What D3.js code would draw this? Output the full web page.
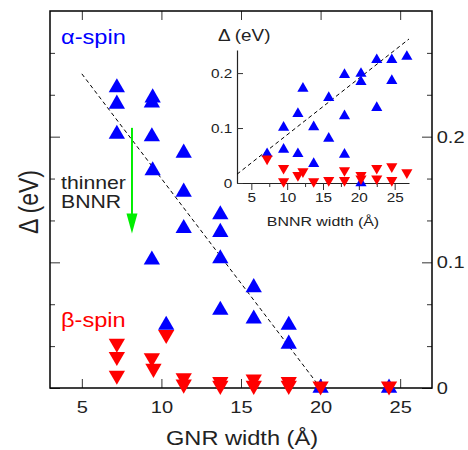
<!DOCTYPE html>
<html>
<head>
<meta charset="utf-8">
<script src="https://cdn.jsdelivr.net/npm/d3@7"></script>
<style>
  body { margin: 0; background: #fff; }
</style>
</head>
<body>
<div id="chart"></div>
<script>
// ---- main panel: gap vs GNR width ----
var alphaX = [7.2, 7.2, 7.2, 9.45, 9.4, 9.4, 9.45, 9.4, 10.3, 11.4, 11.4, 11.4, 13.7, 13.7, 13.7, 13.7, 15.8, 15.8, 18.0, 18.0, 20.0, 24.3];
var alphaY = [0.239, 0.226, 0.202, 0.231, 0.227, 0.200, 0.173, 0.102, 0.050, 0.187, 0.156, 0.127, 0.138, 0.124, 0.103, 0.062, 0.080, 0.055, 0.050, 0.035, 0.0, 0.0];
var betaX = [7.2, 7.2, 7.2, 9.4, 9.5, 10.3, 11.4, 11.4, 13.7, 13.7, 15.8, 15.8, 18.0, 18.0, 20.0, 24.3];
var betaY = [0.0355, 0.025, 0.010, 0.024, 0.0155, 0.0425, 0.008, 0.003, 0.005, 0.002, 0.007, 0.002, 0.005, 0.002, 0.0015, 0.0015];
var fitMain = [[5, 0.25], [20, 0]];

// ---- inset: gap vs BNNR width ----
var insetAlphaX = [7.2, 9.5, 9.5, 11.5, 11.5, 12.2, 13.7, 13.7, 15.8, 15.8, 18.0, 18.0, 18.0, 20.3, 20.3, 20.3, 22.5, 22.5, 24.6, 24.6, 26.7];
var insetAlphaY = [0.053, 0.101, 0.061, 0.053, 0.126, 0.172, 0.102, 0.035, 0.155, 0.081, 0.197, 0.122, 0.052, 0.199, 0.184, 0.0, 0.224, 0.137, 0.224, 0.186, 0.230];
var insetBetaX = [7.2, 9.5, 9.5, 11.5, 12.2, 13.7, 15.8, 18.0, 18.0, 20.3, 20.3, 22.5, 22.5, 24.6, 24.6, 26.7];
var insetBetaY = [0.044, 0.027, 0.003, 0.014, 0.021, 0.003, 0.005, 0.023, 0.005, 0.014, 0.008, 0.027, 0.008, 0.030, 0.005, 0.019];
var fitInset = [[3, 0.016], [27, 0.262]];

var mainXTicks = [5, 10, 15, 20, 25];
var mainYMajor = [0, 0.1, 0.2];
var mainYMinor = [1, 2, 4, 5, 7, 8].map(function(i) { return i / 30; });
var insetXMajor = [5, 10, 15, 20, 25];
var insetXMinor = [7.5, 12.5, 17.5, 22.5];
var insetYTicks = [0, 0.1, 0.2];

var FONT = "'Liberation Sans', Arial, Helvetica, sans-serif";
var SX = 1.18;   // the original figure is a bit stretched sideways
var BLUE = "#0000ff", RED = "#ff0000";

var width = 468, height = 450;
var svg = d3.select("#chart").append("svg")
    .attr("width", width)
    .attr("height", height)
    .style("font-family", FONT);

var x = d3.scaleLinear().domain([3, 27]).range([50, 432]);
var y = d3.scaleLinear().domain([0, 0.3]).range([388, 11]);
var xi = d3.scaleLinear().domain([3, 27]).range([237, 409]);
var yi = d3.scaleLinear().domain([0, 0.242]).range([183, 50]);

function label(px, py, s, size, opts) {
    opts = opts || {};
    var tr = "translate(" + px + "," + py + ") scale(" + SX + ",1)";
    if (opts.rotate) tr += " rotate(" + opts.rotate + ")";
    return svg.append("text")
        .attr("transform", tr)
        .attr("text-anchor", opts.anchor || "start")
        .attr("fill", opts.fill || "#222")
        .style("font-size", size + "px")
        .text(s);
}

function styleAxis(g, size) {
    g.select(".domain").remove();
    g.selectAll(".tick line").attr("stroke", "#333").attr("stroke-width", 1);
    g.selectAll(".tick text")
        .attr("fill", "#222")
        .style("font-size", size + "px")
        .style("font-family", FONT)
        .attr("transform", "scale(" + SX + ",1)");
}

// main axes
var gb = svg.append("g").attr("transform", "translate(0,388)")
    .call(d3.axisBottom(x).tickValues(mainXTicks).tickSize(-9).tickPadding(13));
styleAxis(gb, 17);
var gt = svg.append("g").attr("transform", "translate(0,11)")
    .call(d3.axisTop(x).tickValues(mainXTicks).tickSize(-9).tickFormat(""));
styleAxis(gt, 17);
var gl = svg.append("g").attr("transform", "translate(50,0)")
    .call(d3.axisLeft(y).tickValues(mainYMajor).tickSize(-10).tickFormat(""));
styleAxis(gl, 17);
var gl2 = svg.append("g").attr("transform", "translate(50,0)")
    .call(d3.axisLeft(y).tickValues(mainYMinor).tickSize(-5).tickFormat(""));
styleAxis(gl2, 17);
var gr = svg.append("g").attr("transform", "translate(432,0)")
    .call(d3.axisRight(y).tickValues(mainYMajor).tickSize(-10).tickPadding(4)
        .tickFormat(function(d) { return d === 0 ? "0" : d3.format(".1f")(d); }));
styleAxis(gr, 17);
var gr2 = svg.append("g").attr("transform", "translate(432,0)")
    .call(d3.axisRight(y).tickValues(mainYMinor).tickSize(-5).tickFormat(""));
styleAxis(gr2, 17);

svg.append("rect")
    .attr("x", x.range()[0]).attr("y", y.range()[1])
    .attr("width", x.range()[1] - x.range()[0])
    .attr("height", y.range()[0] - y.range()[1])
    .attr("fill", "none").attr("stroke", "#000").attr("stroke-width", 1.5);

// axis titles
label(242, 445, "GNR width (Å)", 20, {anchor: "middle"});
label(38, 202, "Δ (eV)", 23, {anchor: "middle", rotate: -90});

// fit line, main
svg.append("line")
    .attr("x1", x(fitMain[0][0])).attr("y1", y(fitMain[0][1]))
    .attr("x2", x(fitMain[1][0])).attr("y2", y(fitMain[1][1]))
    .attr("stroke", "#000").attr("stroke-width", 1).attr("stroke-dasharray", "4,3");

var triBig = d3.symbol().type(d3.symbolTriangle).size(115);
var triSmall = d3.symbol().type(d3.symbolTriangle).size(54);

svg.append("g").selectAll("path")
    .data(alphaX.map(function(d, i) { return [d, alphaY[i]]; }))
    .enter().append("path")
    .attr("d", triBig)
    .attr("transform", function(d) { return "translate(" + x(d[0]) + "," + y(d[1]) + ")"; })
    .attr("fill", BLUE);

svg.append("g").selectAll("path")
    .data(betaX.map(function(d, i) { return [d, betaY[i]]; }))
    .enter().append("path")
    .attr("d", triBig)
    .attr("transform", function(d) { return "translate(" + x(d[0]) + "," + y(d[1]) + ") rotate(180)"; })
    .attr("fill", RED);

// green arrow (thinner BNNR)
var arrowX = 8.15, arrowTop = 0.207, arrowTip = 0.123;
svg.append("line")
    .attr("x1", x(arrowX)).attr("y1", y(arrowTop))
    .attr("x2", x(arrowX)).attr("y2", y(arrowTip) - 12)
    .attr("stroke", "#00ee00").attr("stroke-width", 2);
svg.append("path")
    .attr("d", "M" + (x(arrowX) - 5.5) + "," + (y(arrowTip) - 20) +
               "L" + (x(arrowX) + 5.5) + "," + (y(arrowTip) - 20) +
               "L" + x(arrowX) + "," + y(arrowTip) + "Z")
    .attr("fill", "#00ee00");

label(61, 44, "α-spin", 20, {fill: BLUE});
label(61, 327, "β-spin", 20, {fill: RED});
label(61, 189, "thinner", 18);
label(61, 208, "BNNR", 18);

// ---- inset ----
var ib = svg.append("g").attr("transform", "translate(0,183)")
    .call(d3.axisBottom(xi).tickValues(insetXMajor).tickSizeInner(7).tickSizeOuter(0).tickPadding(3));
ib.select(".domain").attr("stroke", "#222").attr("stroke-width", 1.2);
ib.selectAll(".tick line").attr("stroke", "#333");
ib.selectAll(".tick text").attr("fill", "#222").style("font-size", "13px").style("font-family", FONT)
    .attr("transform", "scale(" + SX + ",1)");
var ib2 = svg.append("g").attr("transform", "translate(0,183)")
    .call(d3.axisBottom(xi).tickValues(insetXMinor).tickSize(4).tickFormat(""));
ib2.select(".domain").remove();
ib2.selectAll(".tick line").attr("stroke", "#333");

var il = svg.append("g").attr("transform", "translate(237,0)")
    .call(d3.axisLeft(yi).tickValues(insetYTicks).tickSizeInner(-6).tickSizeOuter(0).tickPadding(4)
        .tickFormat(function(d) { return d === 0 ? "0" : d3.format(".1f")(d); }));
il.select(".domain").attr("stroke", "#222").attr("stroke-width", 1.2);
il.selectAll(".tick line").attr("stroke", "#333");
il.selectAll(".tick text").attr("fill", "#222").style("font-size", "13px").style("font-family", FONT)
    .attr("transform", "scale(" + SX + ",1)");

label(323, 226, "BNNR width (Å)", 13.5, {anchor: "middle"});
label(218, 41, "Δ (eV)", 16);

svg.append("line")
    .attr("x1", xi(fitInset[0][0])).attr("y1", yi(fitInset[0][1]))
    .attr("x2", xi(fitInset[1][0])).attr("y2", yi(fitInset[1][1]))
    .attr("stroke", "#000").attr("stroke-width", 1).attr("stroke-dasharray", "4,3");

svg.append("g").selectAll("path")
    .data(insetAlphaX.map(function(d, i) { return [d, insetAlphaY[i]]; }))
    .enter().append("path")
    .attr("d", triSmall)
    .attr("transform", function(d) { return "translate(" + xi(d[0]) + "," + yi(d[1]) + ")"; })
    .attr("fill", BLUE);

svg.append("g").selectAll("path")
    .data(insetBetaX.map(function(d, i) { return [d, insetBetaY[i]]; }))
    .enter().append("path")
    .attr("d", triSmall)
    .attr("transform", function(d) { return "translate(" + xi(d[0]) + "," + yi(d[1]) + ") rotate(180)"; })
    .attr("fill", RED);
</script>
</body>
</html>
